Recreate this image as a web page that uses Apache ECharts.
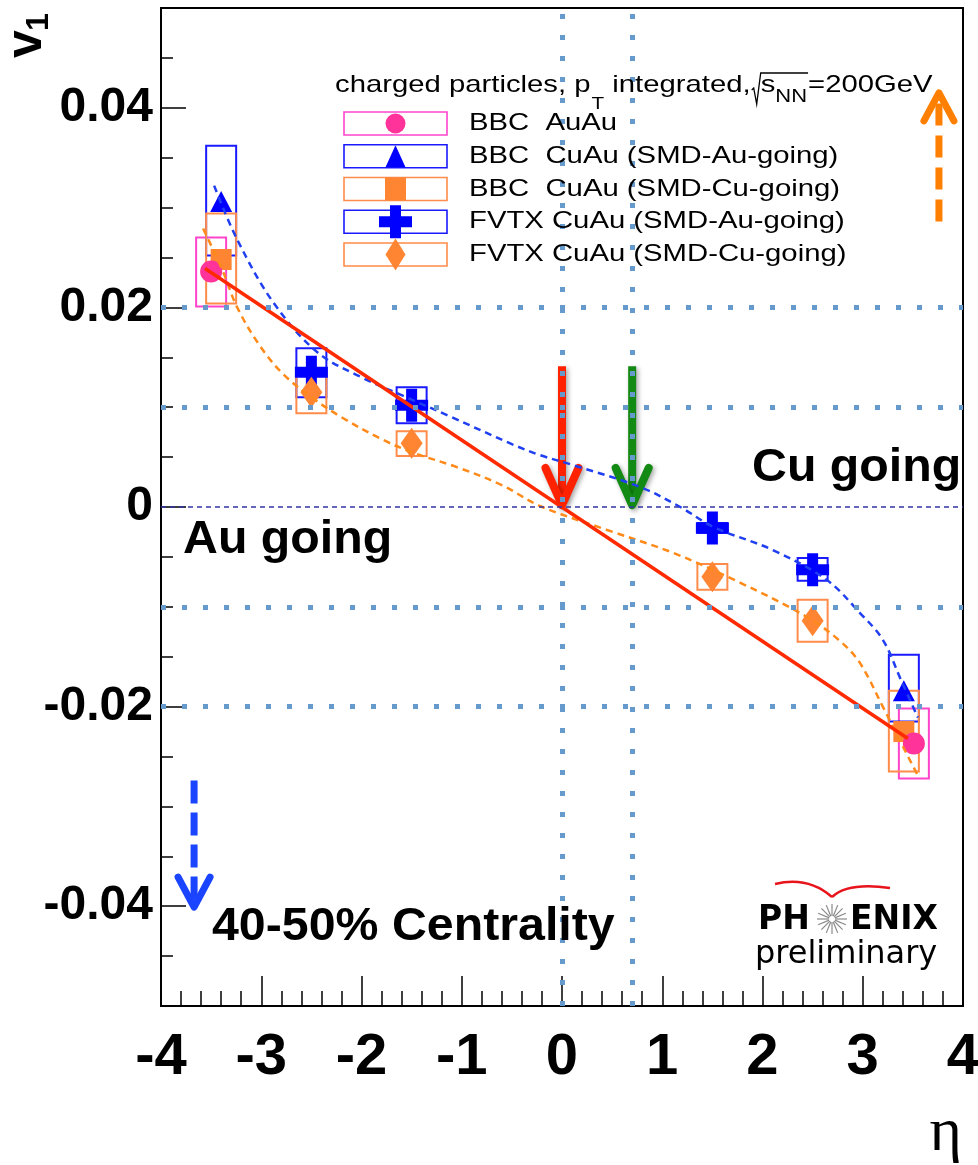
<!DOCTYPE html>
<html>
<head>
<meta charset="utf-8">
<title>v1 vs eta, 40-50% centrality</title>
<script src="https://cdn.jsdelivr.net/npm/echarts@6.0.0/dist/echarts.min.js"></script>
<style>
html, body { margin: 0; padding: 0; background: #ffffff; }
#chart { width: 978px; height: 1165px; }
</style>
</head>
<body>
<div id="chart"></div>
<script>
// ---- axis ticks ----
const etaTicks = [-4, -3, -2, -1, 0, 1, 2, 3, 4];
const v1LabelTicks = [-0.04, -0.02, 0, 0.02, 0.04];

// ---- BBC Au+Au (circles) with systematic box limits ----
const bbcAuAuEta = [-3.50, 3.51];
const bbcAuAuV1 = [0.0236, -0.0237];
const bbcAuAuSysHi = [0.0270, -0.0202];
const bbcAuAuSysLo = [0.0201, -0.0272];

// ---- BBC Cu+Au, SMD Au-going (triangles) ----
const bbcAuGoEta = [-3.40, 3.41];
const bbcAuGoV1 = [0.0306, -0.0184];
const bbcAuGoSysHi = [0.0362, -0.0148];
const bbcAuGoSysLo = [0.0252, -0.0215];

// ---- BBC Cu+Au, SMD Cu-going (squares) ----
const bbcCuGoEta = [-3.40, 3.41];
const bbcCuGoV1 = [0.0248, -0.0225];
const bbcCuGoSysHi = [0.0294, -0.0184];
const bbcCuGoSysLo = [0.0204, -0.0265];

// ---- FVTX Cu+Au, SMD Au-going (crosses) ----
const fvtxAuGoEta = [-2.5, -1.5, 1.5, 2.5];
const fvtxAuGoV1 = [0.0135, 0.0102, -0.0021, -0.0063];
const fvtxAuGoSysHi = [0.0159, 0.0120, -0.0016, -0.0051];
const fvtxAuGoSysLo = [0.0110, 0.0084, -0.0026, -0.0074];

// ---- FVTX Cu+Au, SMD Cu-going (diamonds) ----
const fvtxCuGoEta = [-2.5, -1.5, 1.5, 2.5];
const fvtxCuGoV1 = [0.0115, 0.0064, -0.0070, -0.0114];
const fvtxCuGoSysHi = [0.0136, 0.0076, -0.0057, -0.0093];
const fvtxCuGoSysLo = [0.0094, 0.0051, -0.0083, -0.0135];

// ---- fit curves ----
const auGoFitEta = [-3.47, -3.24, -2.88, -2.44, -2.0, -1.6, -1.1, -0.5, -0.22, 0.11, 0.78, 1.18, 1.51, 2.10, 2.64, 2.97, 3.20, 3.38, 3.55];
const auGoFitV1 = [0.0322, 0.0268, 0.0205, 0.0155, 0.0130, 0.0112, 0.0090, 0.0063, 0.0052, 0.0042, 0.0020, 0.0000, -0.0020, -0.0043, -0.0073, -0.0106, -0.0133, -0.0173, -0.0211];
const cuGoFitEta = [-3.58, -3.39, -3.24, -3.01, -2.78, -2.5, -2.2, -1.8, -1.5, -1.05, -0.6, -0.22, 0.45, 1.11, 1.78, 2.44, 2.77, 2.97, 3.20, 3.37, 3.56];
const cuGoFitV1 = [0.0279, 0.0238, 0.0200, 0.0161, 0.0133, 0.0110, 0.0090, 0.0068, 0.0055, 0.0040, 0.0022, 0.0001, -0.0023, -0.0046, -0.0076, -0.0110, -0.0134, -0.0156, -0.0200, -0.0234, -0.0271];
const auAuLineEta = [-3.56, 3.45];
const auAuLineV1 = [0.0239, -0.0232];

// ---- dotted reference lines ----
const guideLevels = [0.0200, 0.0101, -0.0095, -0.0193];
const guideEtas = [0, 0.70];

// ---- arrows: eta, start, tip ----
const arrowEta = [0, 0.70, 3.76, -3.67];
const arrowFrom = [0.0141, 0.0141, 0.0286, -0.0274];
const arrowTo = [0.0002, 0.0002, 0.0415, -0.0401];

const legendNames = ['BBC  AuAu', 'BBC  CuAu (SMD-Au-going)', 'BBC  CuAu (SMD-Cu-going)', 'FVTX CuAu (SMD-Au-going)', 'FVTX CuAu (SMD-Cu-going)'];

// ---- styling ----
const PINK = '#ff3399', PINK_BOX = '#ff44cc';
const BLUE = '#0000ff', BLUE_BOX = '#1a1aff';
const ORANGE = '#ff8533', ORANGE_BOX = '#ff8c4a';
const BLUE_FIT = '#1f3ff0', ORANGE_FIT = '#ff8a1a', RED_LINE = '#ff2a00';
const GUIDE = '#6699cc';
const SANS = '"Liberation Sans", Arial, Helvetica, sans-serif';
const BOX_HALF = 15;
const CROSS = 'path://M11 0H22V11H33V22H22V33H11V22H0V11H11Z';
const SX = 1.22; // horizontal stretch of the small annotation text
const SXB = 1.05; // horizontal stretch of the bold annotation text

const zip = (a, b) => a.map((x, i) => [x, b[i]]);

function boxSeries(eta, hi, lo, color) {
  return {
    type: 'custom', z: 2, silent: true,
    data: eta.map((e, i) => [e, hi[i], lo[i]]),
    renderItem(params, api) {
      const a = api.coord([api.value(0), api.value(1)]);
      const b = api.coord([api.value(0), api.value(2)]);
      return {
        type: 'rect',
        shape: { x: a[0] - BOX_HALF, y: Math.min(a[1], b[1]), width: BOX_HALF * 2, height: Math.abs(b[1] - a[1]) },
        style: { fill: 'none', stroke: color, lineWidth: 2 }
      };
    }
  };
}

function markerSeries(name, eta, v, symbol, size, color) {
  return {
    type: 'scatter', name, z: 3, silent: true,
    symbol, symbolSize: size,
    data: zip(eta, v),
    itemStyle: { color, opacity: 1 }
  };
}

function fitSeries(eta, v, color, dashed, width) {
  return {
    type: 'line', z: 4, silent: true,
    data: zip(eta, v), smooth: dashed ? 0.35 : false, showSymbol: false,
    lineStyle: { color, width, type: dashed ? [7, 5] : 'solid' }
  };
}

function arrowSeries(i, color, dashed, hw, hh, width, shadow) {
  return {
    type: 'custom', z: 4, silent: true,
    data: [[arrowEta[i], arrowFrom[i], arrowTo[i]]],
    renderItem(params, api) {
      const p0 = api.coord([api.value(0), api.value(1)]);
      const p1 = api.coord([api.value(0), api.value(2)]);
      const d = p1[1] > p0[1] ? 1 : -1;
      const sh = shadow ? { shadowBlur: 5, shadowColor: 'rgba(0,0,0,0.35)', shadowOffsetX: 2, shadowOffsetY: 2 } : {};
      return {
        type: 'group',
        children: [
          {
            type: 'line',
            shape: { x1: p0[0], y1: p0[1], x2: p1[0], y2: p1[1] - d * 4 },
            style: Object.assign({ stroke: color, lineWidth: width, lineCap: 'butt', lineDash: dashed ? dashed : null }, sh)
          },
          {
            type: 'polyline',
            shape: { points: [[p1[0] - hw, p1[1] - d * hh], [p1[0], p1[1]], [p1[0] + hw, p1[1] - d * hh]] },
            style: Object.assign({ stroke: color, fill: null, lineWidth: width, lineCap: 'round', lineJoin: 'round' }, sh)
          }
        ]
      };
    }
  };
}

// ---- text measuring for composed annotations ----
const mctx = document.createElement('canvas').getContext('2d');
function tw(t, font, sx) { mctx.font = font; return mctx.measureText(t).width * (sx || 1); }

function txt(x, y, text, font, opts) {
  opts = opts || {};
  return {
    type: 'text', x, y, z: 100, silent: true,
    scaleX: opts.sx || 1, rotation: opts.rot || 0,
    style: { text, font, fill: opts.fill || '#000', textAlign: opts.align || 'left', verticalAlign: 'middle' }
  };
}

const graphics = [];

// header line: charged particles, p_T integrated, sqrt(s_NN)=200GeV
(function () {
  const F = '24px ' + SANS, FS = '17px ' + SANS, FN = '18px ' + SANS;
  const base = 94;
  const mid = (b, f) => b - 0.3465 * f;
  let x = 335;
  const t1 = 'charged particles, p';
  graphics.push(txt(x, mid(base, 24), t1, F, { sx: SX }));
  x += tw(t1, F, SX) + 1;
  graphics.push(txt(x, mid(base + 16, 17), 'T', FS, { sx: SX }));
  x += tw('T', FS, SX);
  const t2 = ' integrated,';
  graphics.push(txt(x, mid(base, 24), t2, F, { sx: SX }));
  x += tw(t2, F, SX) + 1;
  const rx = x;
  x += 9;
  graphics.push(txt(x, mid(base, 24), 's', F, { sx: SX }));
  x += tw('s', F, SX);
  graphics.push(txt(x, mid(base + 9, 18), 'NN', FN, { sx: SX }));
  x += tw('NN', FN, SX);
  const ox = x;
  graphics.push({
    type: 'polyline', z: 100, silent: true,
    shape: { points: [[rx, base - 4], [rx + 2, base - 6], [rx + 5, base + 10], [rx + 9, base - 21], [ox + 1, base - 21]] },
    style: { stroke: '#000', lineWidth: 1.3, fill: null }
  });
  graphics.push(txt(x + 1, mid(base, 24), '=200GeV', F, { sx: SX }));
})();

// legend entries: outlined box with marker, then label
(function () {
  const boxX = 344, boxW = 103, boxH = 23, top0 = 112, step = 32.75;
  const boxColors = [PINK_BOX, BLUE_BOX, ORANGE_BOX, BLUE_BOX, ORANGE_BOX];
  const fills = [PINK, BLUE, ORANGE, BLUE, ORANGE];
  legendNames.forEach((name, i) => {
    const top = top0 + i * step, cy = top + boxH / 2, cx = boxX + boxW / 2;
    graphics.push({ type: 'rect', z: 100, silent: true, shape: { x: boxX, y: top, width: boxW, height: boxH }, style: { fill: '#fff', stroke: boxColors[i], lineWidth: 1.6 } });
    let m;
    if (i === 0) m = { type: 'circle', shape: { cx, cy, r: 10 } };
    else if (i === 1) m = { type: 'polygon', shape: { points: [[cx, cy - 11], [cx - 10, cy + 11], [cx + 10, cy + 11]] } };
    else if (i === 2) m = { type: 'rect', shape: { x: cx - 10.5, y: top, width: 21, height: boxH } };
    else if (i === 3) {
      const s = 16.5, t = 5.5;
      m = { type: 'polygon', shape: { points: [[cx - t, cy - s], [cx + t, cy - s], [cx + t, cy - t], [cx + s, cy - t], [cx + s, cy + t], [cx + t, cy + t], [cx + t, cy + s], [cx - t, cy + s], [cx - t, cy + t], [cx - s, cy + t], [cx - s, cy - t], [cx - t, cy - t]] } };
    } else m = { type: 'polygon', shape: { points: [[cx, cy - 16], [cx + 10, cy], [cx, cy + 16], [cx - 10, cy]] } };
    m.z = 101; m.silent = true; m.style = { fill: fills[i] };
    graphics.push(m);
    graphics.push(txt(469, cy, name, '24px ' + SANS, { sx: SX }));
  });
})();

// region annotations
const BOLD = 'bold 46px ' + SANS;
graphics.push(txt(752, 468, 'Cu going', BOLD, { sx: SXB }));
graphics.push(txt(183, 540, 'Au going', BOLD, { sx: SXB }));
graphics.push(txt(212, 927, '40-50% Centrality', BOLD, { sx: SXB }));

// axis titles
graphics.push(txt(27, 58, 'v', 'bold 50px ' + SANS, { rot: Math.PI / 2 }));
graphics.push(txt(39, 31, '1', 'bold 32px ' + SANS, { rot: Math.PI / 2 }));
graphics.push(txt(962, 1134, 'η', '62px "Liberation Serif", "DejaVu Serif", serif', { align: 'right' }));

// PHENIX preliminary mark
(function () {
  const F = 'bold 33px "DejaVu Sans", sans-serif';
  graphics.push(txt(758, 920, 'PH', F));
  graphics.push(txt(850, 920, 'ENIX', F));
  const cx = 832, cy = 919;
  for (let k = 0; k < 16; k++) {
    const a = k * Math.PI / 8;
    graphics.push({
      type: 'line', z: 100, silent: true,
      shape: { x1: cx + 3 * Math.cos(a), y1: cy + 3 * Math.sin(a), x2: cx + 15 * Math.cos(a), y2: cy + 15 * Math.sin(a) },
      style: { stroke: '#8a8a8a', lineWidth: 1.2 }
    });
  }
  graphics.push({ type: 'bezierCurve', z: 100, silent: true, shape: { x1: 775, y1: 884, cpx1: 808, cpy1: 876, x2: 832, y2: 897 }, style: { stroke: '#e8141c', lineWidth: 2.4, fill: null } });
  graphics.push({ type: 'bezierCurve', z: 100, silent: true, shape: { x1: 832, y1: 897, cpx1: 848, cpy1: 882, x2: 890, y2: 888 }, style: { stroke: '#e8141c', lineWidth: 2.4, fill: null } });
  graphics.push(txt(755, 955, 'preliminary', '32px "DejaVu Sans", sans-serif'));
})();

const option = {
  animation: false,
  backgroundColor: '#ffffff',
  grid: { left: 161, right: 15, top: 8, bottom: 159, show: true, borderColor: '#000', borderWidth: 2, backgroundColor: 'transparent', outerBoundsMode: 'none' },
  xAxis: {
    type: 'value', min: etaTicks[0], max: etaTicks[etaTicks.length - 1], interval: 1,
    axisLine: { onZero: false, lineStyle: { color: '#000', width: 2 } },
    axisTick: { inside: true, length: 30, lineStyle: { color: '#000', width: 1.5 } },
    minorTick: { show: true, splitNumber: 5, length: 15, lineStyle: { color: '#000', width: 1.5 } },
    splitLine: { show: false },
    axisLabel: { margin: 23, color: '#000', fontSize: 58, fontWeight: 'bold', fontFamily: '"Liberation Sans Narrow", "Liberation Sans", Arial, sans-serif' }
  },
  yAxis: [
    {
      type: 'value', min: -0.05, max: 0.05, interval: 0.005, position: 'left',
      axisLine: { onZero: false, lineStyle: { color: '#000', width: 2 } },
      axisTick: { inside: true, length: 12, lineStyle: { color: '#000', width: 1.5 } },
      axisLabel: { show: false },
      splitLine: { show: false }
    },
    {
      type: 'value', min: -0.05, max: 0.05, interval: 0.005, position: 'left',
      axisLine: { show: false, onZero: false },
      axisTick: { inside: true, length: 25, customValues: v1LabelTicks, lineStyle: { color: '#000', width: 1.5 } },
      axisLabel: {
        customValues: v1LabelTicks, margin: 8, color: '#000', fontSize: 48, fontWeight: 'bold', fontFamily: SANS,
        formatter: v => (Math.abs(v) < 1e-9 ? '0' : (v < 0 ? '-' : '') + Math.abs(v).toFixed(2))
      },
      splitLine: { show: false }
    }
  ],
  graphic: graphics,
  series: [
    boxSeries(bbcAuAuEta, bbcAuAuSysHi, bbcAuAuSysLo, PINK_BOX),
    boxSeries(bbcAuGoEta, bbcAuGoSysHi, bbcAuGoSysLo, BLUE_BOX),
    boxSeries(bbcCuGoEta, bbcCuGoSysHi, bbcCuGoSysLo, ORANGE_BOX),
    boxSeries(fvtxAuGoEta, fvtxAuGoSysHi, fvtxAuGoSysLo, BLUE_BOX),
    boxSeries(fvtxCuGoEta, fvtxCuGoSysHi, fvtxCuGoSysLo, ORANGE_BOX),

    markerSeries(legendNames[1], bbcAuGoEta, bbcAuGoV1, 'triangle', [22, 21], BLUE),
    markerSeries(legendNames[2], bbcCuGoEta, bbcCuGoV1, 'rect', 21, ORANGE),
    markerSeries(legendNames[3], fvtxAuGoEta, fvtxAuGoV1, CROSS, 33, BLUE),
    markerSeries(legendNames[4], fvtxCuGoEta, fvtxCuGoV1, 'diamond', [22, 31], ORANGE),
    markerSeries(legendNames[0], bbcAuAuEta, bbcAuAuV1, 'circle', 22, PINK),

    fitSeries(auGoFitEta, auGoFitV1, BLUE_FIT, true, 2.5),
    fitSeries(cuGoFitEta, cuGoFitV1, ORANGE_FIT, true, 2.5),
    fitSeries(auAuLineEta, auAuLineV1, RED_LINE, false, 3.5),

    arrowSeries(0, '#ff2200', null, 16.5, 37, 8, true),
    arrowSeries(1, '#138a13', null, 16.5, 37, 8, true),
    arrowSeries(2, '#ff8000', [22, 10], 15, 28, 7, false),
    arrowSeries(3, '#1a44ff', [23, 9], 16, 30, 7, false),

    {
      type: 'line', z: 6, silent: true, data: [],
      markLine: {
        silent: true, symbol: 'none', label: { show: false },
        lineStyle: { color: GUIDE, width: 5, type: [5, 16], cap: 'butt' },
        emphasis: { disabled: true },
        data: [
          { yAxis: 0, lineStyle: { color: '#3434a8', width: 1.5, type: [5, 4] } },
          ...guideLevels.map(v => ({ yAxis: v })),
          ...guideEtas.map(e => ({ xAxis: e }))
        ]
      }
    }
  ]
};

const chart = echarts.init(document.getElementById('chart'), null, { renderer: 'canvas' });
chart.setOption(option);
</script>
</body>
</html>
